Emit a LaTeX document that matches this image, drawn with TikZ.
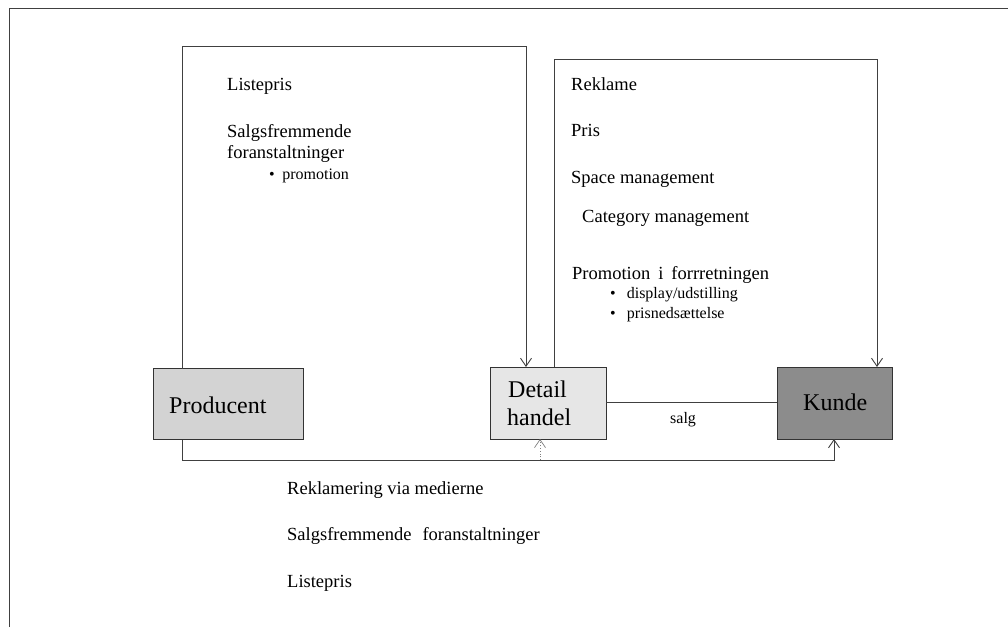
\documentclass[tikz,border=0pt]{standalone}
\usepackage{fontspec}
\setmainfont{Liberation Serif}
\usetikzlibrary{arrows.meta}
\definecolor{prodfill}{HTML}{D3D3D3}
\definecolor{detfill}{HTML}{E6E6E6}
\definecolor{kundefill}{HTML}{8C8C8C}
\definecolor{linegray}{HTML}{404040}
\tikzset{
  boxstyle/.style={draw=black!80, line width=0.9pt, inner sep=0pt, outer sep=0pt},
  conn/.style={draw=linegray, line width=0.9pt},
  tip/.style={-{Straight Barb[length=8pt,width=11pt,line width=0.9pt]}},
  dottedconn/.style={draw=black!50, line width=0.8pt, dotted},
  bigtxt/.style={font=\fontsize{24}{28}\selectfont, anchor=base west, inner sep=0pt},
  txt/.style={font=\fontsize{18.5}{22}\selectfont, anchor=base west, inner sep=0pt},
  smalltxt/.style={font=\fontsize{16}{19}\selectfont, anchor=base west, inner sep=0pt},
}
\begin{document}
\begin{tikzpicture}[x=1pt,y=-1pt]
\useasboundingbox (0,0) rectangle (1008,627);
% outer frame (top and left visible)
\draw[conn, line width=1pt] (9,627) -- (9,8) -- (1008,8);

% boxes
\node[boxstyle, fill=prodfill, minimum width=150pt, minimum height=71pt] (prod) at (228.5,404) {};
\node[boxstyle, fill=detfill, minimum width=116pt, minimum height=72pt] (det) at (548,403) {};
\node[boxstyle, fill=kundefill, minimum width=115pt, minimum height=72pt] (kunde) at (834.5,403) {};

\node[bigtxt] (prodlbl) at (169,413) {Producent};
\node[bigtxt] (detlbl1) at (508,397) {Detail};
\node[bigtxt] (detlbl2) at (507,425) {handel};
\node[bigtxt] (kundelbl) at (803,410) {Kunde};

% coordinates for routing
\coordinate (lt1) at (182,46);
\coordinate (lt2) at (526,46);
\coordinate (rt1) at (554,59);
\coordinate (rt2) at (877,59);
\coordinate (b1) at (182,460);
\coordinate (b2) at (834,460);
\coordinate (dotbase) at (540,460);

% left loop: Producent -> Detail handel
\draw[conn, tip] (prod.north -| lt1) -- (lt1) -- (lt2) -- (det.north -| lt2);
% right loop: Detail handel -> Kunde
\draw[conn, tip] (det.north -| rt1) -- (rt1) -- (rt2) -- (kunde.north -| rt2);
% bottom: Producent -> Kunde
\draw[conn, tip] (prod.south -| b1) -- (b1) -- (b2) -- (kunde.south -| b2);
% dotted into Detail handel
\draw[dottedconn, -{Straight Barb[length=8pt,width=11pt,line width=0.7pt]}] (dotbase) -- (det.south -| dotbase);
% salg
\draw[conn] (det.east |- 0,402) -- (kunde.west |- 0,402);
\node[smalltxt] (salg) at (670,423) {salg};

% left texts
\node[txt] (l1) at (227,90) {Listepris};
\node[txt] (l2) at (227,137) {Salgsfremmende};
\node[txt] (l3) at (227,158) {foranstaltninger};
\node[smalltxt] (l4) at (269,179) {•\hspace{7.5pt}promotion};

% right texts
\node[txt] (r1) at (571,90) {Reklame};
\node[txt] (r2) at (571,136) {Pris};
\node[txt] (r3) at (571,183) {Space management};
\node[txt] (r4) at (582,222) {Category management};
\node[txt] (r5) at (572,279) {Promotion\hspace{8pt}i\hspace{8pt}forrretningen};
\node[smalltxt] (r6) at (610,298) {•\hspace{11pt}display/udstilling};
\node[smalltxt] (r7) at (610,318) {•\hspace{11pt}prisnedsættelse};

% bottom texts
\node[txt] (u1) at (287,494) {Reklamering via medierne};
\node[txt] (u2) at (287,540) {Salgsfremmende\hspace{11pt}foranstaltninger};
\node[txt] (u3) at (287,587) {Listepris};
\end{tikzpicture}
\end{document}
